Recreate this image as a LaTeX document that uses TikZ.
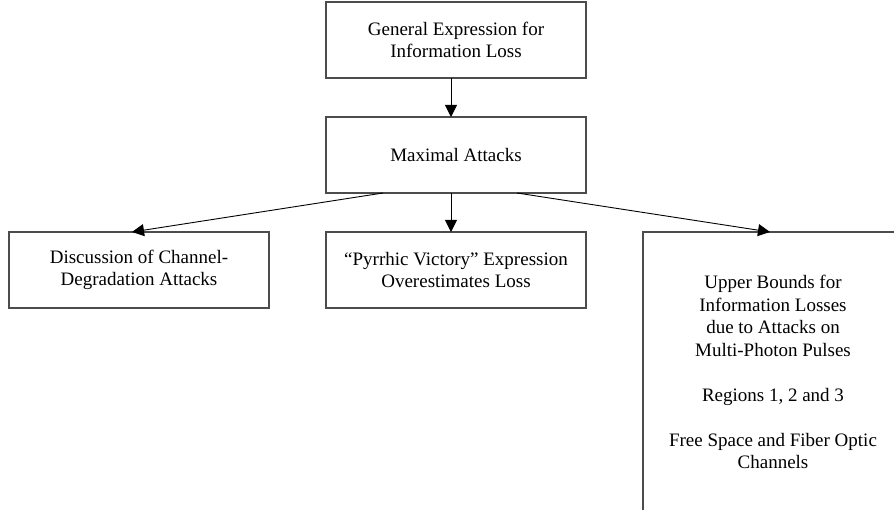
\documentclass[tikz,border=0pt]{standalone}
\usepackage{fontspec}
\setmainfont{Liberation Serif}
\usepackage{tikz}
\usetikzlibrary{arrows.meta}
\usetikzlibrary{positioning}

\begin{document}
\begin{tikzpicture}
          [x=1pt, y=-1pt,
           every node/.style={draw=black!70, line width=1.2pt, rectangle,
             minimum width=260pt, minimum height=76pt, inner sep=0pt,
             outer sep=0pt, align=center,
             font=\fontsize{19}{22.5}\selectfont},
           link/.style={line width=0.9pt, -{Triangle[length=12pt, width=12pt]}}]
          \clip (0,0) rectangle (894,510);
          \node (gen) at (456,40) {General Expression for\\Information Loss};
          \node (max) at (456,155) {Maximal Attacks};
          \node (disc) at (139,270) {Discussion of Channel-\\Degradation Attacks};
          \node (pyr) at (456,270) {``Pyrrhic Victory'' Expression\\Overestimates Loss};
          \node (upp) [minimum height=280pt] at (773,372)
            {Upper Bounds for\\Information Losses\\due to Attacks on\\Multi-Photon Pulses\\[22.5pt]
             Regions 1, 2 and 3\\[22.5pt]Free Space and Fiber Optic\\Channels};

          \draw[link] ([xshift=-5pt]gen.south) -- ([xshift=-5pt]max.north);
          \draw[link] ([xshift=-73pt]max.south) -- ([xshift=-7pt]disc.north);
          \draw[link] ([xshift=-5pt]max.south) -- ([xshift=-5pt]pyr.north);
          \draw[link] ([xshift=61pt]max.south) -- ([xshift=-3pt]upp.north);

        \end{tikzpicture}
\end{document}
